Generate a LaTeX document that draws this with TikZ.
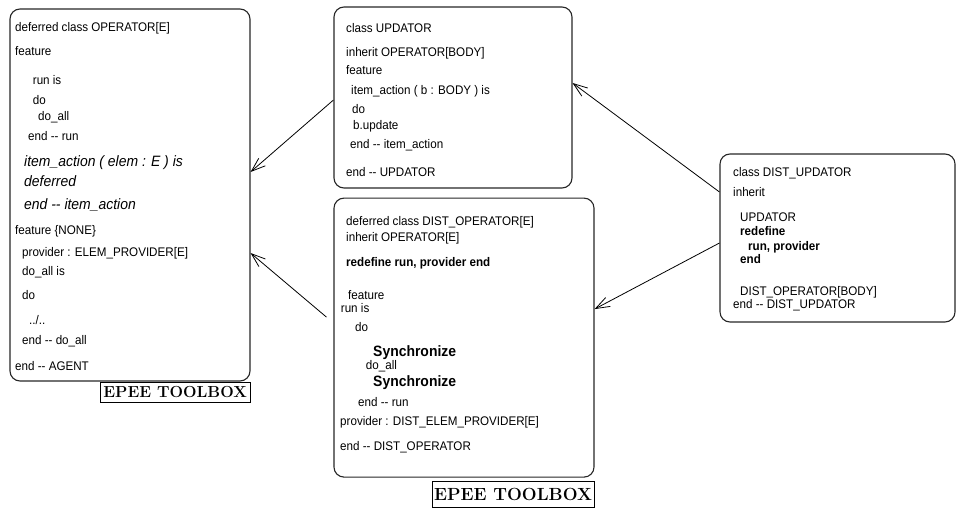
\documentclass[tikz,border=0pt]{standalone}
\usepackage{fontspec}
\setsansfont{Liberation Sans}[FakeStretch=0.93]
\usetikzlibrary{positioning,arrows.meta}

\newcommand{\indt}[1]{\hspace*{#1pt}}
\newcommand{\ddash}{-\kern0pt-}
\newcommand{\itl}{\fontsize{15}{13}\selectfont\itshape}
\newcommand{\sync}{{\fontsize{15}{13}\selectfont\bfseries Synchronize}}

\tikzset{
  classbox/.style={draw=black!85, line width=1.1pt, rounded corners=10pt, inner sep=0pt},
  code/.style={anchor=north west, inner sep=0pt, align=left,
    font=\sffamily\fontsize{12.5}{13}\selectfont},
  toolbox/.style={draw, line width=0.8pt, inner sep=0pt, font=\rmfamily\bfseries\fontsize{16}{17}\selectfont},
  uses/.style={-{Straight Barb[length=14pt,width=10pt]}, line width=0.8pt}
}

\begin{document}
\lineskiplimit=-50pt
\begin{tikzpicture}[x=1pt,y=-1pt]
\useasboundingbox (0,0) rectangle (957,508);

% the four classes
\node[classbox, minimum width=240pt, minimum height=372pt] (op) at (130,195) {};
\node[classbox, minimum width=238pt, minimum height=181pt] (upd) at (453,97.5) {};
\node[classbox, minimum width=260pt, minimum height=279pt] (dop) [below right=9pt and 0pt of upd.south west] {};
\node[classbox, minimum width=235pt, minimum height=168pt] (dup) at (837.5,238) {};

\node[toolbox, minimum width=150pt, minimum height=20pt] (optool) [below left=0pt of op.south east] {EPEE TOOLBOX};
\node[toolbox, minimum width=162pt, minimum height=26pt, font=\rmfamily\bfseries\fontsize{17.6}{18}\selectfont] (doptool) [below left=3pt and 0pt of dop.south east] {EPEE TOOLBOX};

% class texts
\node[code] (optext) at (15,21.7) {\rule{0pt}{10pt}deferred class OPERATOR[E]\\[10.3pt]
feature\\[16pt]
\indt{17.7}run is\\[7.3pt]
\indt{17.7}do\\[3.4pt]
\indt{23}do\_all\\[7pt]
\indt{13}end \ddash{} run\\[12.3pt]
{\itl\indt{9}item\_action ( elem : E ) is}\\[7.7pt]
{\itl\indt{9}deferred}\\[9.3pt]
{\itl\indt{9}end \ddash{} item\_action}\\[12.3pt]
feature \{NONE\}\\[8.7pt]
\indt{7}provider : ELEM\_PROVIDER[E]\\[6.7pt]
\indt{7}do\_all is\\[10.6pt]
\indt{7}do\\[12pt]
\indt{14}../..\\[7pt]
\indt{7}end \ddash{} do\_all\\[12.7pt]
end \ddash{} AGENT};

\node[code] (updtext) at (346,22.7) {\rule{0pt}{10pt}class UPDATOR\\[11pt]
inherit OPERATOR[BODY]\\[4.3pt]
feature\\[7pt]
\indt{5}item\_action ( b : BODY ) is\\[6pt]
\indt{6}do\\[3pt]
\indt{7}b.update\\[6pt]
\indt{4}end \ddash{} item\_action\\[15.7pt]
end \ddash{} UPDATOR};

\node[code] (doptext) at (340,215.7) {\rule{0pt}{10pt}\indt{6}deferred class DIST\_OPERATOR[E]\\[3pt]
\indt{6}inherit OPERATOR[E]\\[12pt]
\indt{6}\textbf{redefine run, provider end}\\[19.3pt]
\indt{8}feature\\[0pt]
\indt{0.7}run is\\[6.7pt]
\indt{15}do\\[11.3pt]
\indt{33}\sync\\[0.3pt]
\indt{25.7}do\_all\\[4.4pt]
\indt{33}\sync\\[6.3pt]
\indt{18}end \ddash{} run\\[6pt]
provider : DIST\_ELEM\_PROVIDER[E]\\[12pt]
end \ddash{} DIST\_OPERATOR};

\node[code] (duptext) at (733,166.7) {\rule{0pt}{10pt}class DIST\_UPDATOR\\[7pt]
inherit\\[11.3pt]
\indt{7}UPDATOR\\[1pt]
\indt{7}\textbf{redefine}\\[2pt]
\indt{15}\textbf{run, provider}\\[0pt]
\indt{7}\textbf{end}\\[19pt]
\indt{7}DIST\_OPERATOR[BODY]\\[0pt]
end \ddash{} DIST\_UPDATOR};

% inheritance links
\draw[uses] ([yshift=-2.5pt]upd.west) -- ([yshift=23pt]op.east);
\draw[uses] ([shift={(-7pt,20.5pt)}]dop.west) -- ([yshift=-58pt]op.east);
\draw[uses] ([yshift=46pt]dup.west) -- ([yshift=14.5pt]upd.east);
\draw[uses] ([yshift=-5pt]dup.west) -- ([yshift=28.5pt]dop.east);
\end{tikzpicture}
\end{document}
